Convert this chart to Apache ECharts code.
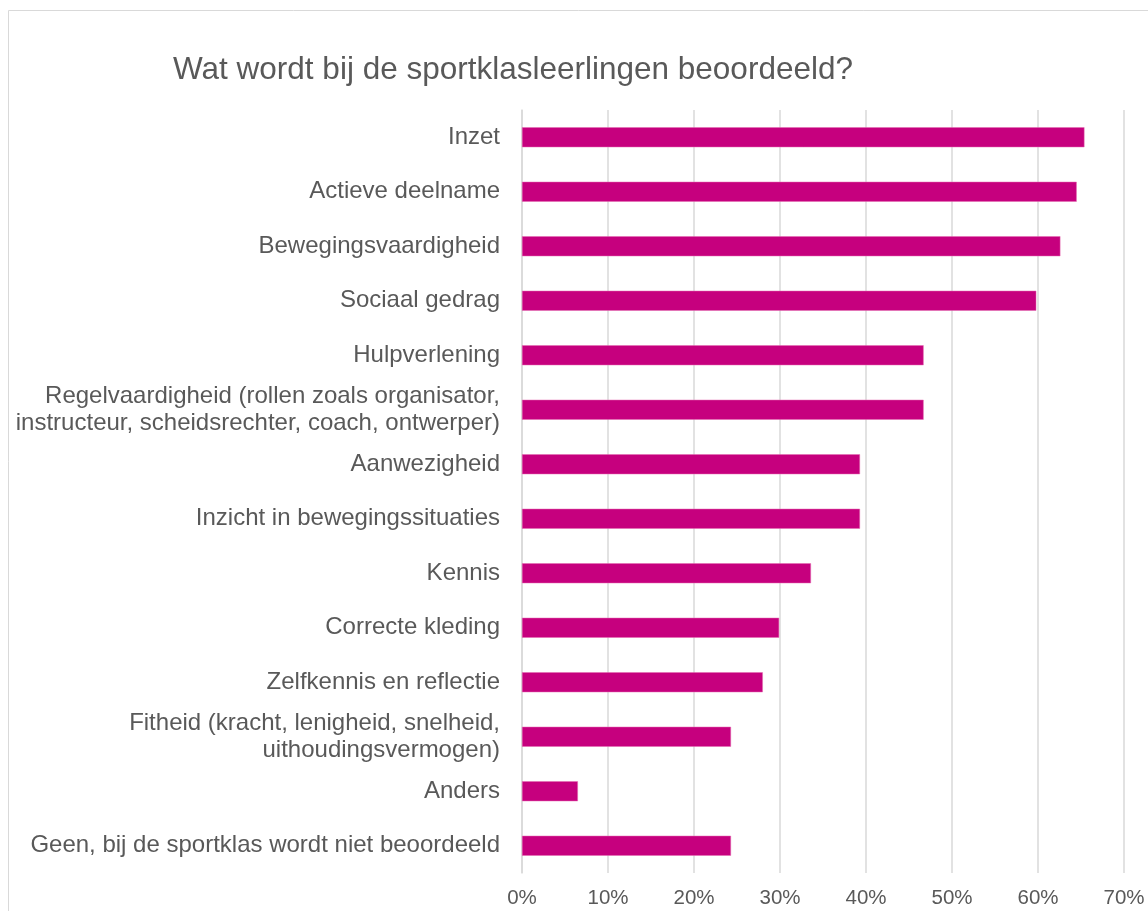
<!DOCTYPE html>
<html>
<head>
<meta charset="utf-8">
<script src="https://cdn.jsdelivr.net/npm/echarts@6/dist/echarts.min.js"></script>
<style>html,body{margin:0;padding:0;background:#fff}#c{width:1148px;height:911px}</style>
</head>
<body>
<div id="c"></div>
<script>
const titleText = 'Wat wordt bij de sportklasleerlingen beoordeeld?';
const categories = [
  'Inzet',
  'Actieve deelname',
  'Bewegingsvaardigheid',
  'Sociaal gedrag',
  'Hulpverlening',
  'Regelvaardigheid (rollen zoals organisator,\ninstructeur, scheidsrechter, coach, ontwerper)',
  'Aanwezigheid',
  'Inzicht in bewegingssituaties',
  'Kennis',
  'Correcte kleding',
  'Zelfkennis en reflectie',
  'Fitheid (kracht, lenigheid, snelheid,\nuithoudingsvermogen)',
  'Anders',
  'Geen, bij de sportklas wordt niet beoordeeld'
];
const values = [65.4, 64.5, 62.6, 59.8, 46.7, 46.7, 39.3, 39.3, 33.6, 29.9, 28.0, 24.3, 6.5, 24.3];
const xTicks = [0, 10, 20, 30, 40, 50, 60, 70];

const chart = echarts.init(document.getElementById('c'));
const font = 'Liberation Sans, Arial, sans-serif';
chart.setOption({
  animation: false,
  textStyle: { fontFamily: font },
  title: {
    text: titleText, left: 168, top: 49,
    textStyle: { color: '#595959', fontSize: 31.5, fontWeight: 'normal', fontFamily: font }
  },
  graphic: [{
    type: 'rect', silent: true,
    shape: { x: 8.5, y: 10.5, width: 1200, height: 1000 },
    style: { fill: 'none', stroke: '#d9d9d9', lineWidth: 1 }
  }],
  grid: { left: 522, right: 24, top: 110, bottom: 38, containLabel: false },
  xAxis: {
    type: 'value', min: xTicks[0], max: xTicks[xTicks.length - 1], interval: 10,
    axisLine: { show: false }, axisTick: { show: false },
    splitLine: { lineStyle: { color: '#d9d9d9', width: 1.5 } },
    axisLabel: { color: '#595959', fontSize: 20.5, margin: 15, formatter: v => v + '%' }
  },
  yAxis: {
    type: 'category', data: categories, inverse: true,
    axisLine: { show: true, lineStyle: { color: '#d9d9d9', width: 1.5 } },
    axisTick: { show: false },
    axisLabel: { color: '#595959', fontSize: 24, margin: 22, lineHeight: 27, align: 'right' }
  },
  series: [{
    type: 'bar', data: values, barWidth: 20,
    itemStyle: { color: '#C6007E', borderColor: '#e46bb0', borderWidth: 0.5 }
  }]
});
</script>
</body>
</html>
